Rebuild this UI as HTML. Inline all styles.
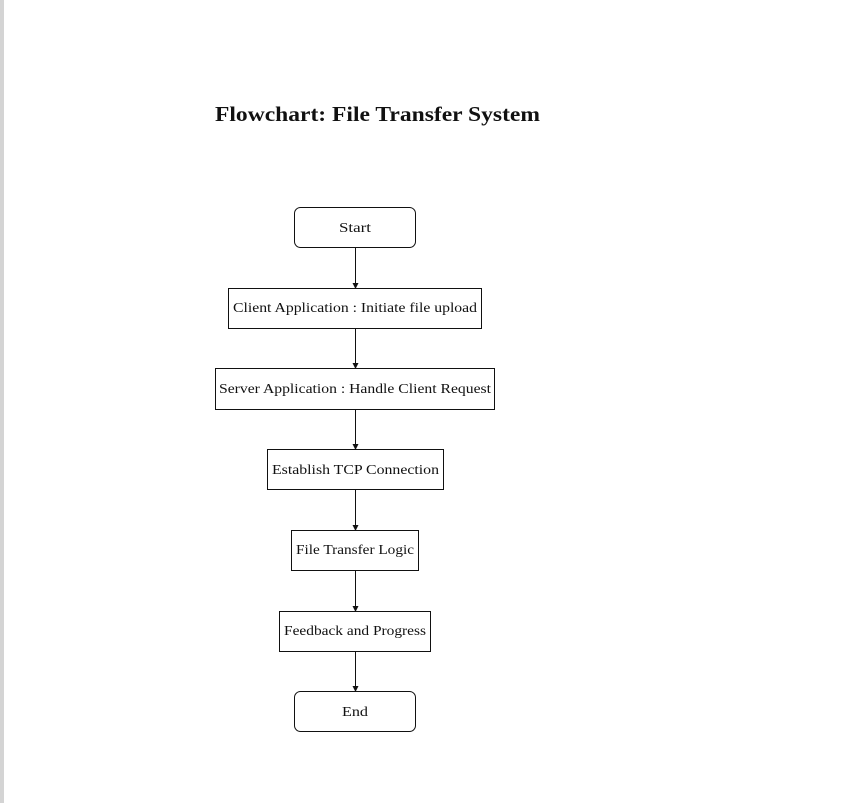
<!DOCTYPE html>
<html><head><meta charset="utf-8"><style>
html,body{margin:0;padding:0;background:#fff;}
body{width:867px;height:803px;overflow:hidden;position:relative;}
.bar{position:absolute;left:0;top:0;width:4px;height:803px;background:#d4d4d4;}
svg{position:absolute;left:0;top:0;}
text{font-family:"Liberation Serif",serif;fill:#111;}
</style></head><body>
<div class="bar"></div>
<svg width="867" height="803" viewBox="0 0 867 803">
<defs><marker id="a" markerWidth="6" markerHeight="6" refX="5" refY="3" orient="auto" markerUnits="userSpaceOnUse"><path d="M0,0 L6,3 L0,6 Z" fill="#111"/></marker></defs>
<text x="215" y="121" font-size="21" font-weight="bold" textLength="325" lengthAdjust="spacingAndGlyphs">Flowchart: File Transfer System</text>
<g fill="none" stroke="#111" stroke-width="1">
<rect x="294.5" y="207.5" width="121" height="40" rx="6"/>
<rect x="228.5" y="288.5" width="253" height="40"/>
<rect x="215.5" y="368.5" width="279" height="41"/>
<rect x="267.5" y="449.5" width="176" height="40"/>
<rect x="291.5" y="530.5" width="127" height="40"/>
<rect x="279.5" y="611.5" width="151" height="40"/>
<rect x="294.5" y="691.5" width="121" height="40" rx="6"/>
<g marker-end="url(#a)">
<line x1="355.5" y1="248" x2="355.5" y2="288"/>
<line x1="355.5" y1="329" x2="355.5" y2="368"/>
<line x1="355.5" y1="410" x2="355.5" y2="449"/>
<line x1="355.5" y1="490" x2="355.5" y2="530"/>
<line x1="355.5" y1="571" x2="355.5" y2="611"/>
<line x1="355.5" y1="652" x2="355.5" y2="691"/>
</g>
</g>
<g font-size="14" lengthAdjust="spacingAndGlyphs">
<text x="339" y="232" textLength="32" lengthAdjust="spacingAndGlyphs">Start</text>
<text x="233" y="312" textLength="244" lengthAdjust="spacingAndGlyphs">Client Application : Initiate file upload</text>
<text x="219" y="393" textLength="272" lengthAdjust="spacingAndGlyphs">Server Application : Handle Client Request</text>
<text x="272" y="474" textLength="167" lengthAdjust="spacingAndGlyphs">Establish TCP Connection</text>
<text x="296" y="554" textLength="118" lengthAdjust="spacingAndGlyphs">File Transfer Logic</text>
<text x="284" y="635" textLength="142" lengthAdjust="spacingAndGlyphs">Feedback and Progress</text>
<text x="342" y="716" textLength="26" lengthAdjust="spacingAndGlyphs">End</text>
</g>
</svg>
</body></html>
